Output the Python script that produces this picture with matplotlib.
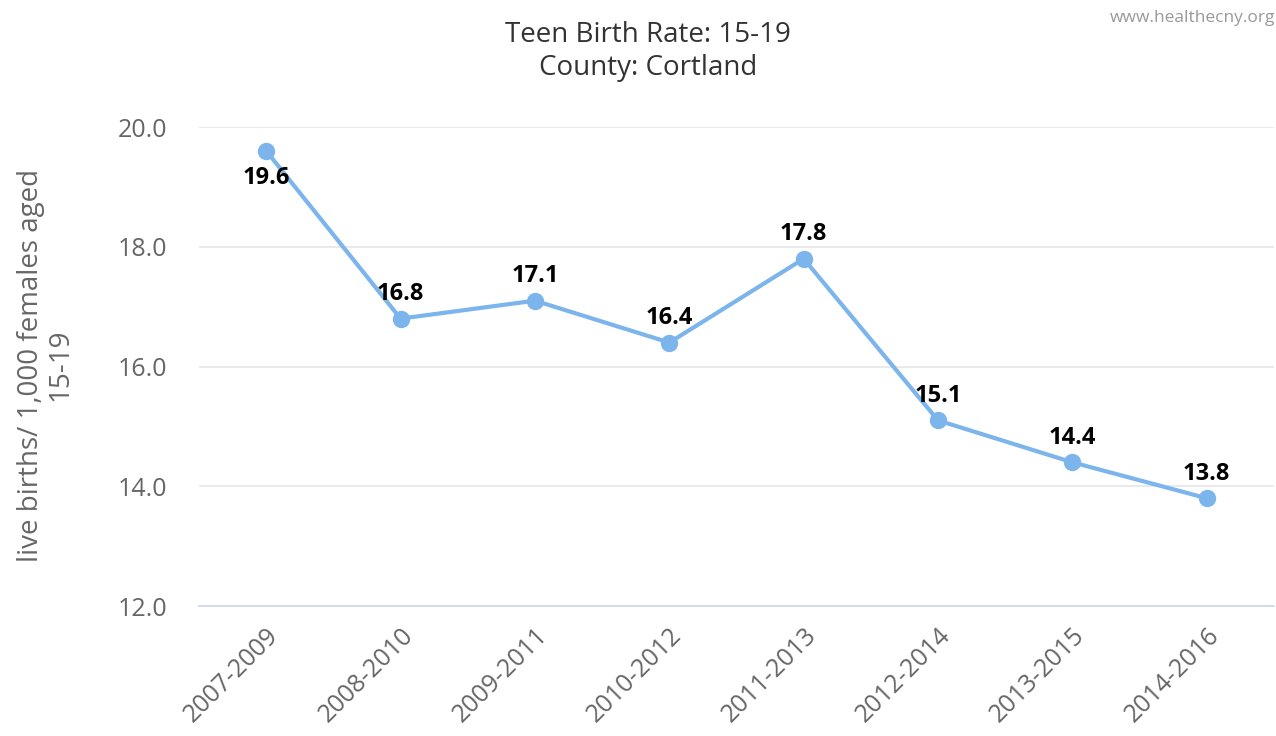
import matplotlib
matplotlib.use('Agg')
from matplotlib import pyplot as plt

periods = ['2007-2009', '2008-2010', '2009-2011', '2010-2012',
           '2011-2013', '2012-2014', '2013-2015', '2014-2016']
rates = [19.6, 16.8, 17.1, 16.4, 17.8, 15.1, 14.4, 13.8]
yticks = [12.0, 14.0, 16.0, 18.0, 20.0]

plt.rcParams['font.family'] = ['Open Sans', 'DejaVu Sans']

fig = plt.figure(figsize=(12.76, 7.36), dpi=100)
ax = fig.add_axes([0.156, 0.1766, 0.8424, 0.6508])

x = list(range(len(periods)))
ax.plot(x, rates, color='#7cb5ec', linewidth=3, marker='o', markersize=11.5,
        zorder=3, clip_on=False)

for i, v in enumerate(rates):
    if i == 0:
        ax.annotate('{:.1f}'.format(v), (i, v), xytext=(0, -11), textcoords='offset points',
                    ha='center', va='top', fontsize=17, fontweight='bold', color='black')
    else:
        ax.annotate('{:.1f}'.format(v), (i, v), xytext=(0, 9), textcoords='offset points',
                    ha='center', va='bottom', fontsize=17, fontweight='bold', color='black')

ax.set_xlim(-0.5, len(periods) - 0.5)
ax.set_ylim(12, 20)
ax.set_yticks(yticks)
ax.set_yticklabels(['{:.1f}'.format(t) for t in yticks], fontsize=18, color='#666666')
ax.set_xticks(x)
ax.set_xticklabels(periods, fontsize=18, color='#666666', rotation=45,
                   ha='right', va='top', rotation_mode='anchor')
ax.tick_params(axis='y', length=0, pad=23)
ax.tick_params(axis='x', length=0, pad=12)

ax.grid(axis='y', color='#e6e6e6', linewidth=1.2)
ax.set_axisbelow(True)
for s in ['top', 'right', 'left']:
    ax.spines[s].set_visible(False)
ax.spines['bottom'].set_color('#ccd6eb')
ax.spines['bottom'].set_linewidth(1.2)

fig.text(0.036, 0.504, 'live births/ 1,000 females aged\n15-19', ha='center', va='center',
         rotation=90, fontsize=20, color='#666666', linespacing=1.05)

fig.text(0.508, 0.952, 'Teen Birth Rate: 15-19', ha='center', va='center',
         fontsize=20, color='#333333')
fig.text(0.508, 0.908, 'County: Cortland', ha='center', va='center',
         fontsize=20, color='#333333')
fig.text(0.999, 0.975, 'www.healthecny.org', ha='right', va='center',
         fontsize=12.5, color='#999999')

fig.savefig('out.png', dpi=100)
